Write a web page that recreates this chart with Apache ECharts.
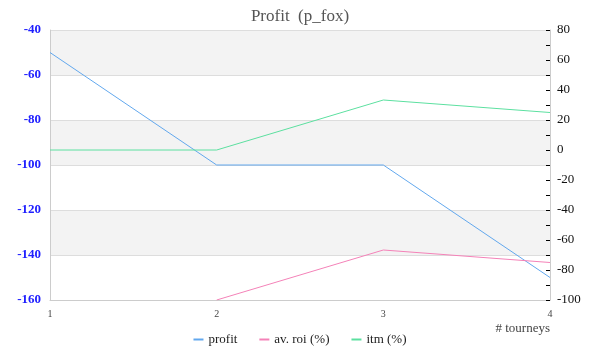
<!DOCTYPE html>
<html><head><meta charset="utf-8">
<script src="https://cdn.jsdelivr.net/npm/echarts@6/dist/echarts.min.js"></script>
<style>html,body{margin:0;padding:0;background:#fff}#c{width:600px;height:360px}</style>
</head><body><div id="c"></div>
<script>
const categories = ['1', '2', '3', '4'];
const profit = [-50, -100, -100, -150];
const avRoi = [null, -100, -66.67, -75];
const itm = [0, 0, 33.33, 25];
const seriesNames = ['profit', 'av. roi (%)', 'itm (%)'];
const titleText = 'Profit  (p_fox)';
const xName = '# tourneys';

const serif = '"Liberation Serif", "DejaVu Serif", serif';
const chart = echarts.init(document.getElementById('c'), null, {renderer: 'canvas'});
chart.setOption({
  animation: false,
  title: {text: titleText, left: 'center', top: 3, textStyle: {fontFamily: serif, fontSize: 17, fontWeight: 'normal', color: '#555'}},
  grid: {left: 50, right: 50, top: 30, bottom: 60},
  legend: {
    bottom: 9, left: 'center', itemWidth: 10, itemHeight: 2, itemGap: 22, icon: 'rect',
    textStyle: {fontFamily: serif, fontSize: 13, color: '#222'},
    data: seriesNames
  },
  xAxis: {
    type: 'category', data: categories, boundaryGap: false,
    name: xName, nameLocation: 'end', nameGap: 0,
    nameTextStyle: {fontFamily: serif, fontSize: 13, color: '#444', align: 'right', verticalAlign: 'top', padding: [22, 0, 0, 0]},
    axisLine: {onZero: false, lineStyle: {color: '#ccc'}},
    axisTick: {show: false},
    axisLabel: {fontFamily: serif, fontSize: 10, color: '#444', margin: 9},
    splitLine: {show: false}
  },
  yAxis: [{
    type: 'value', min: -160, max: -40, interval: 20, position: 'left',
    axisLine: {show: true, lineStyle: {color: '#ccc'}},
    axisTick: {show: false},
    axisLabel: {fontFamily: serif, fontSize: 13, fontWeight: 'bold', color: '#2020ff', margin: 9},
    splitLine: {lineStyle: {color: '#ddd'}},
    splitArea: {show: true, areaStyle: {color: ['rgba(255,255,255,0)', '#f3f3f3']}}
  }, {
    type: 'value', min: -100, max: 80, interval: 10, position: 'right',
    axisLine: {show: true, lineStyle: {color: '#ccc'}},
    axisTick: {show: true, inside: true, length: 4, lineStyle: {color: '#000'}},
    axisLabel: {fontFamily: serif, fontSize: 13, color: '#111', margin: 7,
      formatter: v => (Math.round(v) % 20 === 0 ? String(v) : '')},
    splitLine: {show: false}
  }],
  series: [
    {name: seriesNames[0], type: 'line', data: profit, yAxisIndex: 0, showSymbol: false, symbol: 'none', lineStyle: {width: 1, color: '#62a8ee'}, itemStyle: {color: '#62a8ee'}},
    {name: seriesNames[1], type: 'line', data: avRoi, yAxisIndex: 1, showSymbol: false, symbol: 'none', lineStyle: {width: 1, color: '#f482b8'}, itemStyle: {color: '#f482b8'}},
    {name: seriesNames[2], type: 'line', data: itm, yAxisIndex: 1, showSymbol: false, symbol: 'none', lineStyle: {width: 1, color: '#5ce0a0'}, itemStyle: {color: '#5ce0a0'}}
  ]
});
</script></body></html>
